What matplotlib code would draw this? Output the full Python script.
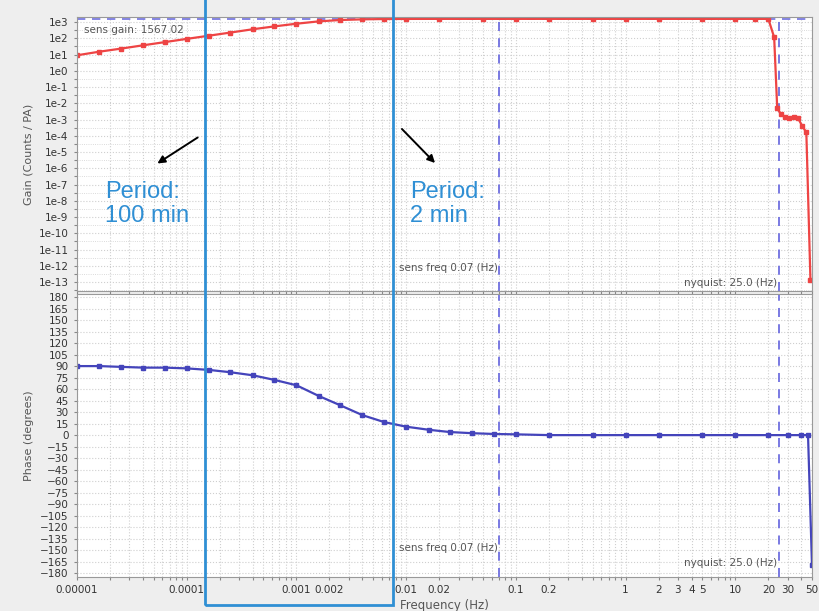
import numpy as np
import matplotlib
matplotlib.use("Agg")
import matplotlib.pyplot as plt
from matplotlib.patches import Rectangle
from matplotlib.ticker import FixedLocator, FixedFormatter, NullFormatter, LogLocator

# gain response
freq_gain = [1e-5, 1.6e-5, 2.5e-5, 4e-5, 6.3e-5, 1e-4, 1.6e-4, 2.5e-4, 4e-4, 6.3e-4,
             1e-3, 1.6e-3, 2.5e-3, 4e-3, 6.3e-3, 0.01, 0.02, 0.05, 0.1, 0.2, 0.5,
             1, 2, 5, 10, 15, 20, 22.6, 24.1, 26, 28.3, 30.7, 34, 37.4, 40.6, 44.4, 48.4]
gain = [9, 15, 23, 37, 58, 92, 145, 225, 360, 540,
        790, 1100, 1330, 1470, 1530, 1555, 1565, 1567, 1567, 1567, 1567,
        1567, 1567, 1567, 1567, 1565, 1560, 115, 0.0049, 0.0022, 0.0014, 0.00117,
        0.0015, 0.00117, 0.00042, 0.00016, 1.3e-13]

# phase response
freq_phase = [1e-5, 1.6e-5, 2.5e-5, 4e-5, 6.3e-5, 1e-4, 1.6e-4, 2.5e-4, 4e-4, 6.3e-4,
              1e-3, 1.6e-3, 2.5e-3, 4e-3, 6.3e-3, 0.01, 0.016, 0.025, 0.04, 0.063,
              0.1, 0.2, 0.5, 1, 2, 5, 10, 20, 30, 40, 46, 50]
phase = [90, 90, 89, 88, 88, 87, 85, 82, 78, 72,
         65, 51, 39, 26, 17, 11, 7, 4, 2.5, 1.5,
         1, 0, 0, 0, 0, 0, 0, 0, 0, 0, 0, -170]

sens_gain = 1567.02
sens_freq = 0.07
nyquist = 25.0

xtick_vals = [1e-5, 1e-4, 1e-3, 2e-3, 1e-2, 2e-2, 0.1, 0.2, 1, 2, 3, 4, 5, 10, 20, 30, 50]
xtick_labels = ["0.00001", "0.0001", "0.001", "0.002", "0.01", "0.02", "0.1", "0.2",
                "1", "2", "3", "4", "5", "10", "20", "30", "50"]
gain_ticks = [10.0 ** k for k in range(3, -14, -1)]
gain_labels = ["1e%d" % k for k in range(3, -14, -1)]
phase_ticks = list(range(180, -181, -15))

W, H = 820, 611
fig = plt.figure(figsize=(W / 100, H / 100), dpi=100, facecolor="#eeeeee")
ax1 = fig.add_axes([77 / W, 1 - 291 / H, 735 / W, 274 / H])
ax2 = fig.add_axes([77 / W, 1 - 577 / H, 735 / W, 283 / H], sharex=ax1)

tick_col = "#333333"
txt_col = "#555555"
grid_col = "#cfcfcf"
dash_col = "#6f6fe0"

for ax in (ax1, ax2):
    ax.set_facecolor("white")
    ax.set_xscale("log")
    ax.set_xlim(1e-5, 50)
    ax.xaxis.set_major_locator(FixedLocator(xtick_vals))
    ax.xaxis.set_minor_locator(LogLocator(base=10, subs=np.arange(2, 10), numticks=30))
    ax.xaxis.set_minor_formatter(NullFormatter())
    ax.grid(True, which="both", axis="x", ls=":", color=grid_col, lw=0.8)
    ax.grid(True, which="major", axis="y", ls=":", color=grid_col, lw=0.8)
    ax.grid(True, which="minor", axis="y", ls=":", color=grid_col, lw=0.6)
    ax.tick_params(which="both", labelsize=7.5, colors="#888888", labelcolor=tick_col,
                   length=2.5, width=0.8)
    for s in ax.spines.values():
        s.set_color("#999999")
    ax.axvline(sens_freq, color=dash_col, ls=(0, (5, 4)), lw=1.3)
    ax.axvline(nyquist, color=dash_col, ls=(0, (5, 4)), lw=1.3)

# gain
ax1.set_yscale("log")
ax1.set_ylim(10 ** -13.55, 10 ** 3.31)
ax1.yaxis.set_major_locator(FixedLocator(gain_ticks))
ax1.yaxis.set_major_formatter(FixedFormatter(gain_labels))
ax1.yaxis.set_minor_locator(FixedLocator([10.0 ** (k + 0.5) for k in range(-14, 4)]))
ax1.yaxis.set_minor_formatter(NullFormatter())
ax1.tick_params(axis="x", which="both", labelbottom=False)
ax1.axhline(sens_gain, color=dash_col, ls=(0, (5, 4)), lw=1.2)
ax1.plot(freq_gain, gain, color="#ee4444", lw=1.6, marker="s", ms=2.2)
ax1.set_ylabel("Gain (Counts / PA)", fontsize=8, color=txt_col, labelpad=4)
ax1.text(0.01, 0.952, "sens gain: 1567.02", transform=ax1.transAxes, fontsize=7.5,
         color=txt_col, va="center", ha="left")
ax1.text(0.068, 0.084, "sens freq 0.07 (Hz)", transform=ax1.get_xaxis_transform(),
         fontsize=7.5, color=txt_col, va="center", ha="right")
ax1.text(24.2, 0.029, "nyquist: 25.0 (Hz)", transform=ax1.get_xaxis_transform(),
         fontsize=7.5, color=txt_col, va="center", ha="right")

# phase
ax2.set_ylim(-185, 184)
ax2.yaxis.set_major_locator(FixedLocator(phase_ticks))
ax2.plot(freq_phase, phase, color="#4444bb", lw=1.6, marker="s", ms=2.2)
ax2.set_xticklabels(xtick_labels)
ax2.set_ylabel("Phase (degrees)", fontsize=8, color=txt_col, labelpad=4)
ax2.set_xlabel("Frequency (Hz)", fontsize=8.5, color=txt_col, labelpad=3)
ax2.text(0.068, 0.1025, "sens freq 0.07 (Hz)", transform=ax2.get_xaxis_transform(),
         fontsize=7.5, color=txt_col, va="center", ha="right")
ax2.text(24.2, 0.049, "nyquist: 25.0 (Hz)", transform=ax2.get_xaxis_transform(),
         fontsize=7.5, color=txt_col, va="center", ha="right")

# annotations drawn over the figure
blue = "#2f8fd4"
fig.add_artist(Rectangle((205 / W, 1 - 605 / H), 188 / W, 612 / H, transform=fig.transFigure,
                         fill=False, edgecolor=blue, lw=2, clip_on=False))
note_font = dict(color=blue, fontsize=17, family="Liberation Sans", va="baseline", ha="left")
fig.text(105 / W, 1 - 198 / H, "Period:", **note_font)
fig.text(105 / W, 1 - 222 / H, "100 min", **note_font)
fig.text(410 / W, 1 - 198 / H, "Period:", **note_font)
fig.text(410 / W, 1 - 222 / H, "2 min", **note_font)
arrow = dict(arrowstyle="-|>", color="black", lw=1.4, mutation_scale=11)
ax1.annotate("", xy=(155 / W, 1 - 165 / H), xytext=(200 / W, 1 - 136 / H),
             xycoords="figure fraction", textcoords="figure fraction", arrowprops=arrow)
ax1.annotate("", xy=(437 / W, 1 - 165 / H), xytext=(400 / W, 1 - 127 / H),
             xycoords="figure fraction", textcoords="figure fraction", arrowprops=arrow)

fig.savefig("out.png", dpi=100, facecolor=fig.get_facecolor())
